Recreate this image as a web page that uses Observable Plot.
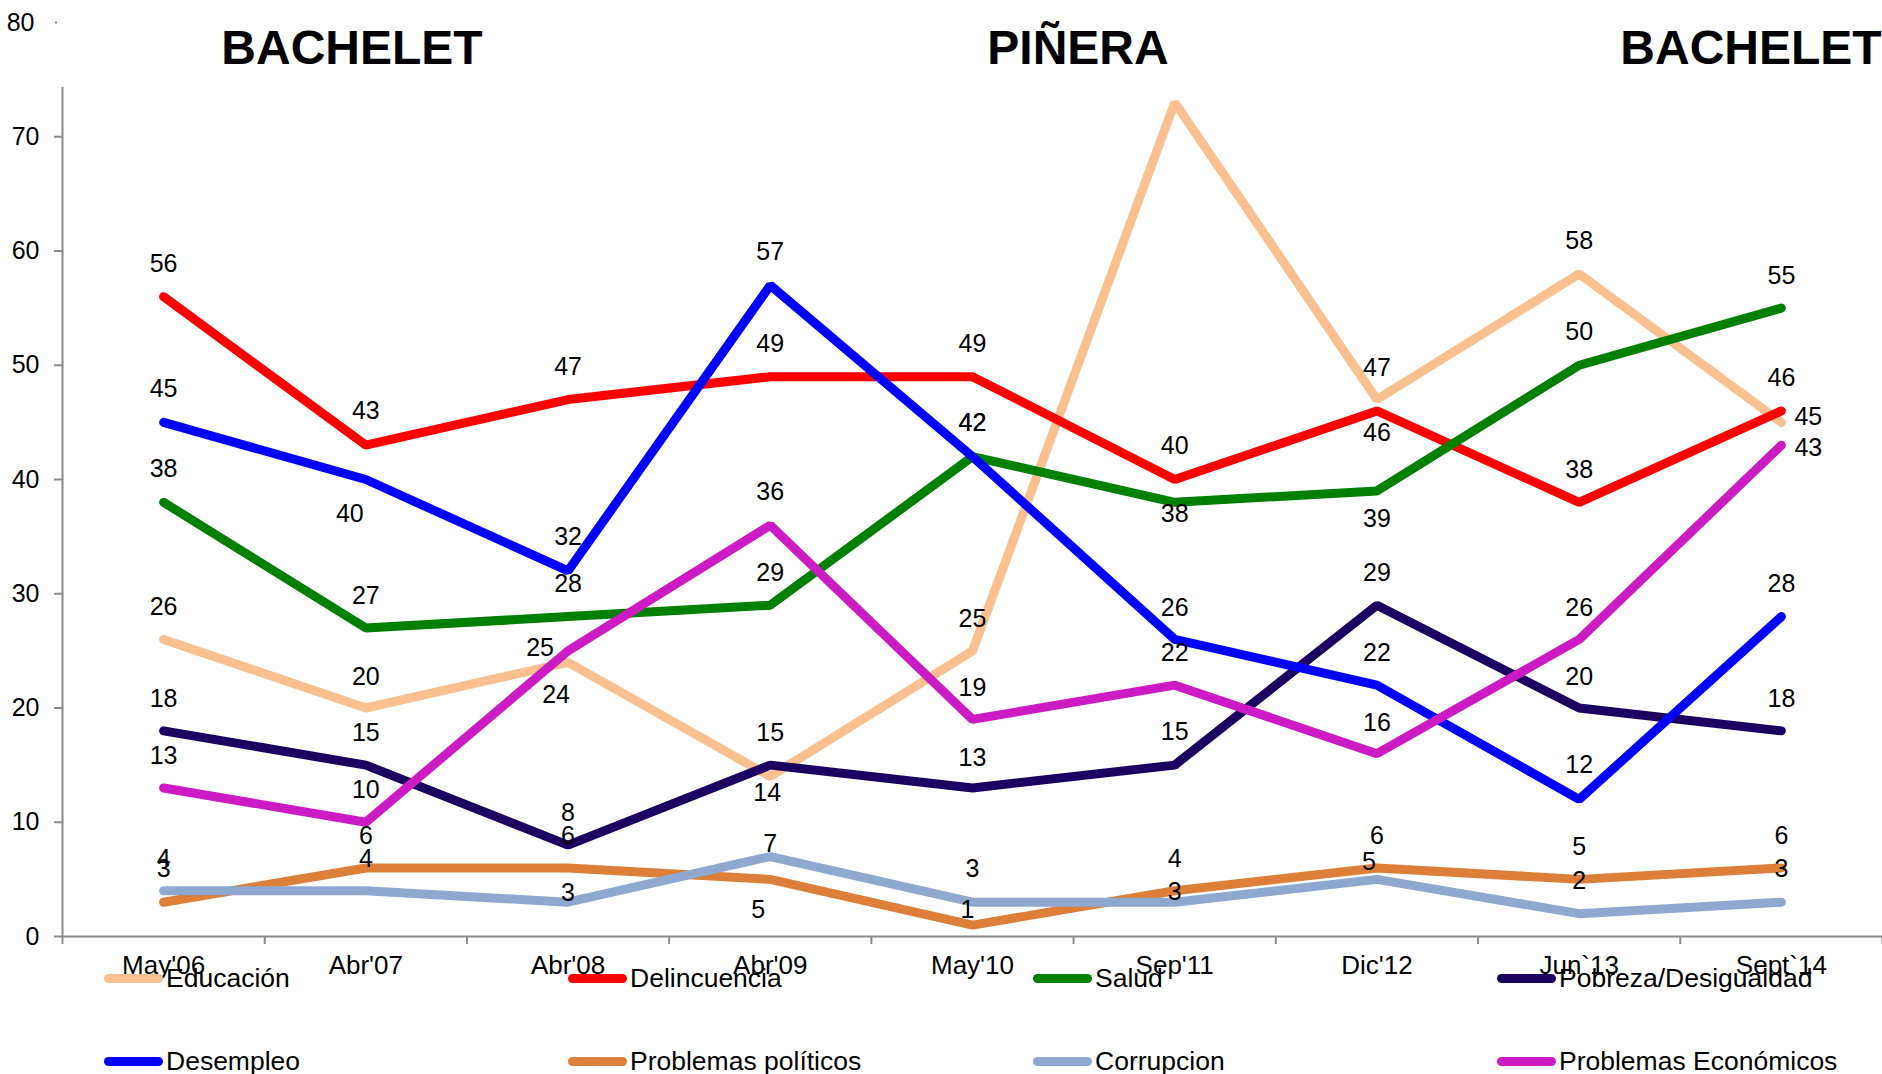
<!DOCTYPE html>
<html>
<head>
<meta charset="utf-8">
<script src="https://cdn.jsdelivr.net/npm/d3@7"></script>
<script src="https://cdn.jsdelivr.net/npm/@observablehq/plot@0.6"></script>
<style>
  html, body { margin: 0; padding: 0; background: #fff; overflow: hidden; }
  #wrap { position: relative; width: 1882px; height: 1074px; font-family: "Liberation Sans", Arial, sans-serif; color: #000; }
  #wrap svg { position: absolute; left: 0; top: 0; }
  .title { position: absolute; font-weight: bold; font-size: 48px; line-height: 48px; white-space: nowrap; transform: translateX(-50%); }
  .leg { position: absolute; display: flex; align-items: center; height: 27px; font-size: 26.5px; white-space: nowrap; }
  .leg .sw { width: 59px; height: 9px; border-radius: 4.5px; margin-right: 3px; flex: none; }
</style>
</head>
<body>
<div id="wrap"></div>
<script>
// ---- data ----
const categories = ["May'06", "Abr'07", "Abr'08", "Abr'09", "May'10", "Sep'11", "Dic'12", "Jun`13", "Sept`14"];
const educacion    = [26, 20, 24, 14, 25, 73, 47, 58, 45];
const delincuencia = [56, 43, 47, 49, 49, 40, 46, 38, 46];
const salud        = [38, 27, 28, 29, 42, 38, 39, 50, 55];
const pobreza      = [18, 15, 8, 15, 13, 15, 29, 20, 18];
const desempleo    = [45, 40, 32, 57, 42, 26, 22, 12, 28];
const politicos    = [3, 6, 6, 5, 1, 4, 6, 5, 6];
const corrupcion   = [4, 4, 3, 7, 3, 3, 5, 2, 3];
const economicos   = [13, 10, 25, 36, 19, 22, 16, 26, 43];
const yTicks = [0, 10, 20, 30, 40, 50, 60, 70, 80];
const periods = [
  {name: "BACHELET", center: 352},
  {name: "PIÑERA", center: 1078},
  {name: "BACHELET", center: 1751}
];

// ---- series styling ----
const series = [
  {name: "Educación", values: educacion, color: "#FAC090"},
  {name: "Delincuencia", values: delincuencia, color: "#FF0000"},
  {name: "Salud", values: salud, color: "#008000"},
  {name: "Pobreza/Desigualdad", values: pobreza, color: "#1B0062"},
  {name: "Desempleo", values: desempleo, color: "#0000FF"},
  {name: "Problemas políticos", values: politicos, color: "#DD7F38"},
  {name: "Corrupcion", values: corrupcion, color: "#8EA8D0"},
  {name: "Problemas Económicos", values: economicos, color: "#CC1BC4"}
];

// label placement (pixel offsets from the point; "R" = to the right, null = no label)
const labelDy = {
  "Educación":            [-32, -31, 33, 16, -32, null, -32, -33, -5],
  "Delincuencia":         [-33, -34, -33, -33, -33, -34, 22, -32, -33],
  "Salud":                [-33, -32, -33, -32, -34, 12, 28, -33, -32],
  "Pobreza/Desigualdad":  [-32, -32, -32, -32, -30, -33, -32, -31, -32],
  "Desempleo":            [-33, 34, -34, -33, -34, -31, -32, -34, -33],
  "Problemas políticos":  [-33, -32, -32, 31, -15, -32, -32, -32, -32],
  "Corrupcion":           [-32, -32, -9, -13, -33, -10, -17, -33, -33],
  "Problemas Económicos": [-32, -32, -3, -33, -31, -32, -31, -31, 3]
};
const labelDx = {
  "Educación":            [0, 0, -12, -3, 0, 0, 0, 0, "R"],
  "Desempleo":            [0, -16, 0, 0, 0, 0, 0, 0, 0],
  "Problemas políticos":  [0, 0, 0, -12, -5, 0, 0, 0, 0],
  "Corrupcion":           [0, 0, 0, 0, 0, 0, -8, 0, 0],
  "Problemas Económicos": [0, 0, -28, 0, 0, 0, 0, 0, "R"]
};

const rows = series.flatMap(s => s.values.map((v, i) => ({series: s.name, i, value: v})));

const labelMarks = rows
  .filter(d => labelDy[d.series][d.i] != null)
  .map(d => {
    const dxv = (labelDx[d.series] || [])[d.i] || 0;
    const right = dxv === "R";
    return Plot.text([d], {
      x: "i", y: "value", text: d => String(d.value),
      dx: right ? 13 : dxv,
      dy: labelDy[d.series][d.i],
      textAnchor: right ? "start" : "middle",
      fontSize: 25, fill: "#000"
    });
  });

const axisGray = "#8a8a8a";

const chart = Plot.plot({
  width: 1882,
  height: 1074,
  marginLeft: 62,
  marginRight: 0,
  marginTop: 22,
  marginBottom: 138,
  style: {fontFamily: "'Liberation Sans', Arial, sans-serif", background: "transparent", overflow: "visible"},
  x: {type: "linear", domain: [-0.5, 8.5], label: null},
  y: {type: "linear", domain: [0, 80], label: null},
  color: {domain: series.map(s => s.name), range: series.map(s => s.color)},
  marks: [
    // axes
    Plot.axisY({ticks: yTicks.slice(0, 8), label: null, tickSize: 8, tickPadding: 15, fontSize: 25, stroke: axisGray, strokeWidth: 2, fill: "#000"}),
    Plot.axisY({ticks: yTicks.slice(8), label: null, tickSize: 2, tickPadding: 21, fontSize: 25, stroke: axisGray, strokeWidth: 2, fill: "#000", dx: -5}),
    Plot.ruleX([-0.5], {y1: 0, y2: 74.3, stroke: axisGray, strokeWidth: 2}),
    Plot.axisX({ticks: d3.range(-0.5, 9, 1), label: null, tickSize: 8, tickFormat: () => "", stroke: axisGray, strokeWidth: 2}),
    Plot.axisX({ticks: d3.range(0, 9), label: null, tickSize: 0, tickPadding: 19, fontSize: 26, fill: "#000", tickFormat: i => categories[i]}),
    Plot.ruleY([0], {stroke: axisGray, strokeWidth: 2}),
    // lines
    Plot.line(rows, {x: "i", y: "value", z: "series", stroke: "series", strokeWidth: 9, strokeLinecap: "round", strokeLinejoin: "miter"}),
    // labels
    ...labelMarks
  ]
});

const wrap = document.getElementById("wrap");
wrap.appendChild(chart);

// period titles
for (const p of periods) {
  const t = document.createElement("div");
  t.className = "title";
  t.textContent = p.name;
  t.style.left = p.center + "px";
  t.style.top = "24px";
  wrap.appendChild(t);
}

// legend (2 rows x 4 columns)
const legCols = [104, 568, 1033, 1497];
const legRows = [965, 1048];
series.forEach((s, k) => {
  const el = document.createElement("div");
  el.className = "leg";
  el.style.left = legCols[k % 4] + "px";
  el.style.top = legRows[Math.floor(k / 4)] + "px";
  const sw = document.createElement("span");
  sw.className = "sw";
  sw.style.background = s.color;
  const tx = document.createElement("span");
  tx.textContent = s.name;
  el.appendChild(sw);
  el.appendChild(tx);
  wrap.appendChild(el);
});
</script>
</body>
</html>
